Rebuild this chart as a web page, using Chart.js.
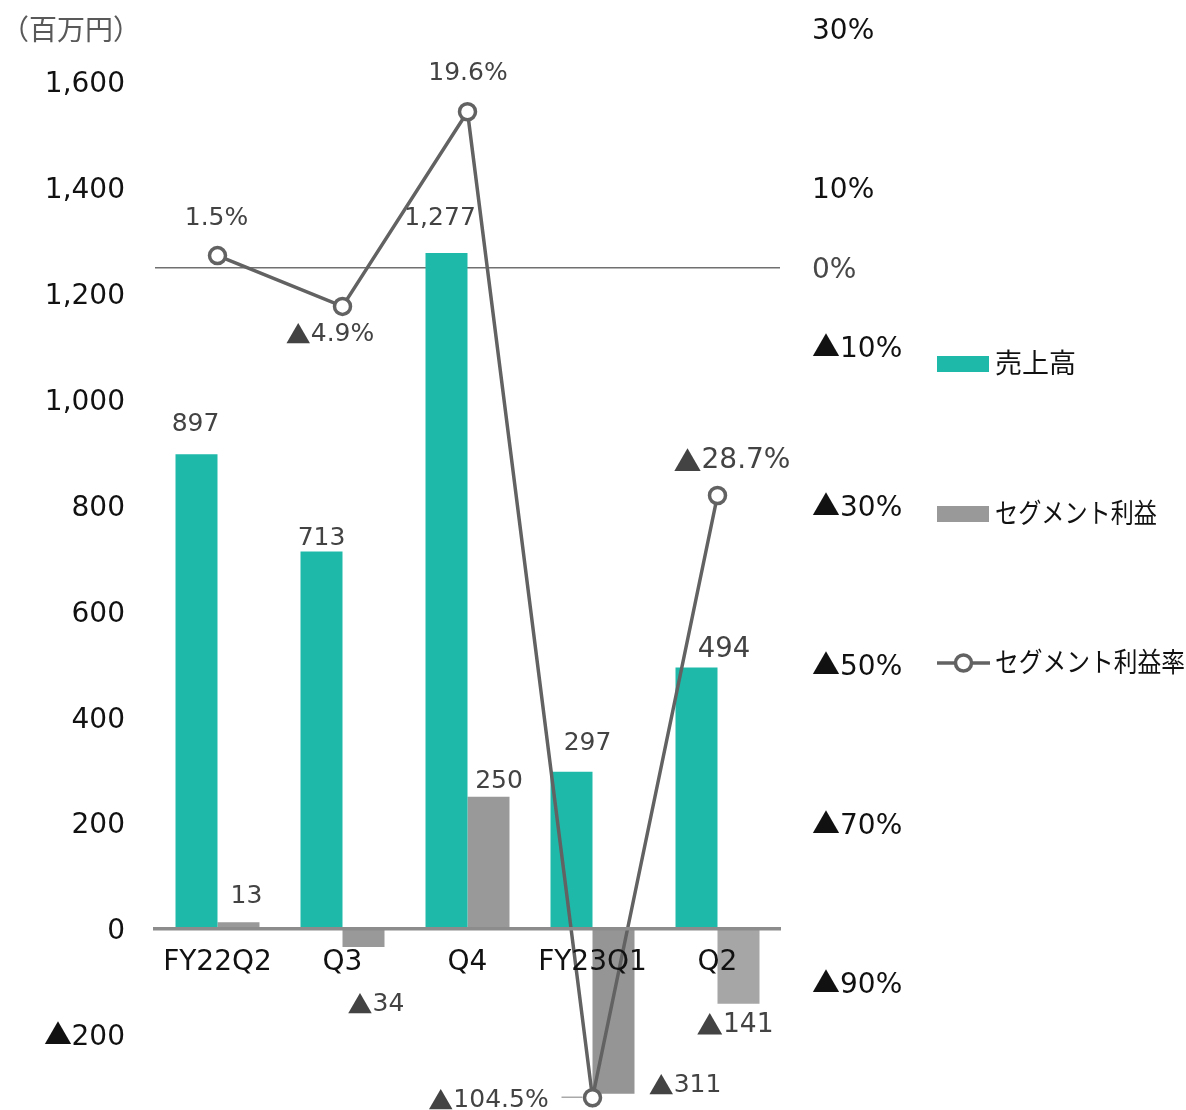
<!DOCTYPE html>
<html>
<head>
<meta charset="utf-8">
<script src="https://cdn.jsdelivr.net/npm/chart.js@4.4.1/dist/chart.umd.min.js"></script>
<style>
@font-face {
  font-family: 'TriMark';
  src: local('Noto Sans CJK JP Regular'), local('NotoSansCJKjp-Regular'), local('Noto Sans CJK JP');
  unicode-range: U+25B2;
}
html,body{margin:0;padding:0;background:#fff;overflow:hidden}
canvas{display:block}
</style>
</head>
<body>
<canvas id="c" width="1186" height="1110"></canvas>
<script>
// ---- data ----
const categories = ['FY22Q2', 'Q3', 'Q4', 'FY23Q1', 'Q2'];
const sales = [897, 713, 1277, 297, 494];
const profit = [13, -34, 250, -311, -141];
const profitRate = [1.5, -4.9, 19.6, -104.5, -28.7];
const leftTicks = [-200, 0, 200, 400, 600, 800, 1000, 1200, 1400, 1600];
const rightTicks = [30, 10, 0, -10, -30, -50, -70, -90];
const seriesNames = ['売上高', 'セグメント利益', 'セグメント利益率'];
const unitLabel = '（百万円）';

// ---- styling / label placement ----
const numFont = "'DejaVu Sans', 'Noto Sans CJK JP', sans-serif";
const tickFont = "'TriMark', 'DejaVu Sans', 'Noto Sans CJK JP', sans-serif";
const cjkFont = "'Noto Sans CJK JP', 'DejaVu Sans', sans-serif";
const teal = '#1fb9aa';
const lineGrey = '#626262';
const profitColors = ['#999999', '#999999', '#999999', '#959595', '#a6a6a6'];
const salesOff = [[-1, -29.5], [0, -13.5], [-6.5, -34.5], [16, -28], [27.5, -18]];
const profitOff = [[8, -26], [12.5, 57], [10.5, -15.5], [71.5, -8.5], [-3.5, 21.5]];
const rateOff = [[-1, -37], [-12.5, 28], [0.5, -38], [-104, 3], [14.5, -34.5]];
const salesSize = [25, 25, 25, 25, 27.5];
const profitSize = [25, 25, 25, 25, 26.5];
const rateSize = [25, 25, 25, 25, 28];
const legendMaxW = [null, 162, 190];

function fmtNum(v) {
  return v < 0 ? '▲' + Math.abs(v).toLocaleString('en-US') : v.toLocaleString('en-US');
}
function fmtPct(v) {
  return v < 0 ? '▲' + Math.abs(v).toFixed(1) + '%' : v.toFixed(1) + '%';
}
function fmtTickPct(v) {
  return v < 0 ? '▲' + Math.abs(v) + '%' : v + '%';
}

function drawLabel(ctx, text, cx, cy, size) {
  let tri = '', rest = text;
  if (text.charAt(0) === '▲') { tri = '▲'; rest = text.slice(1); }
  ctx.font = size + 'px ' + cjkFont;
  const wt = tri ? ctx.measureText(tri).width : 0;
  ctx.font = size + 'px ' + numFont;
  const wr = ctx.measureText(rest).width;
  let x = cx - (wt + wr) / 2;
  ctx.textAlign = 'left';
  if (tri) {
    ctx.font = size + 'px ' + cjkFont;
    ctx.fillText(tri, x, cy);
    x += wt;
  }
  ctx.font = size + 'px ' + numFont;
  ctx.fillText(rest, x, cy);
}

const overlay = {
  id: 'overlay',
  afterDraw(chart) {
    const ctx = chart.ctx;
    const mRate = chart.getDatasetMeta(0);
    const mSales = chart.getDatasetMeta(1);
    const mProfit = chart.getDatasetMeta(2);
    ctx.save();
    ctx.textBaseline = 'middle';
    ctx.fillStyle = '#434343';
    sales.forEach((v, i) => {
      const el = mSales.data[i];
      drawLabel(ctx, fmtNum(v), el.x + salesOff[i][0], el.y + salesOff[i][1], salesSize[i]);
    });
    profit.forEach((v, i) => {
      const el = mProfit.data[i];
      drawLabel(ctx, fmtNum(v), el.x + profitOff[i][0], el.y + profitOff[i][1], profitSize[i]);
    });
    profitRate.forEach((v, i) => {
      const el = mRate.data[i];
      drawLabel(ctx, fmtPct(v), el.x + rateOff[i][0], el.y + rateOff[i][1], rateSize[i]);
    });
    // leader line for the far-off label
    const pLow = mRate.data[3];
    ctx.strokeStyle = '#a9a9a9';
    ctx.lineWidth = 1.5;
    ctx.beginPath();
    ctx.moveTo(pLow.x - 31, pLow.y - 0.5);
    ctx.lineTo(pLow.x - 10, pLow.y - 0.5);
    ctx.stroke();

    // legend
    const lx = 937, lw = 52, tx = 995;
    const rows = [364, 514, 663];
    ctx.fillStyle = teal;
    ctx.fillRect(lx, rows[0] - 8, lw, 16);
    ctx.fillStyle = '#999999';
    ctx.fillRect(lx, rows[1] - 8, lw, 16);
    ctx.strokeStyle = lineGrey;
    ctx.lineWidth = 3.5;
    ctx.beginPath();
    ctx.moveTo(lx, rows[2]);
    ctx.lineTo(lx + 53, rows[2]);
    ctx.stroke();
    ctx.beginPath();
    ctx.arc(lx + 26.5, rows[2], 8, 0, Math.PI * 2);
    ctx.fillStyle = '#ffffff';
    ctx.fill();
    ctx.stroke();
    ctx.font = '27px ' + cjkFont;
    ctx.fillStyle = '#111111';
    ctx.textAlign = 'left';
    seriesNames.forEach((n, i) => {
      if (legendMaxW[i]) ctx.fillText(n, tx, rows[i] - 1.5, legendMaxW[i]);
      else ctx.fillText(n, tx, rows[i] - 1.5);
    });

    // unit label
    ctx.font = '28px ' + cjkFont;
    ctx.fillStyle = '#595959';
    ctx.textAlign = 'center';
    ctx.fillText(unitLabel, 71, 29);
    ctx.restore();
  }
};

const chart = new Chart(document.getElementById('c'), {
  type: 'bar',
  data: {
    labels: categories,
    datasets: [
      {
        type: 'line',
        label: seriesNames[2],
        data: profitRate,
        yAxisID: 'y1',
        order: 0,
        borderColor: lineGrey,
        borderWidth: 3.5,
        pointRadius: 8,
        pointHoverRadius: 8,
        pointBorderWidth: 3.5,
        pointBackgroundColor: '#ffffff',
        pointBorderColor: lineGrey,
        tension: 0,
        fill: false,
        clip: false
      },
      {
        label: seriesNames[0],
        data: sales,
        yAxisID: 'y',
        order: 1,
        backgroundColor: teal,
        categoryPercentage: 0.672,
        barPercentage: 1.0
      },
      {
        label: seriesNames[1],
        data: profit,
        yAxisID: 'y',
        order: 2,
        backgroundColor: profitColors,
        categoryPercentage: 0.672,
        barPercentage: 1.0
      }
    ]
  },
  options: {
    responsive: false,
    animation: false,
    devicePixelRatio: 1,
    layout: { autoPadding: false, padding: { top: 18, bottom: 2, left: 0, right: 0 } },
    plugins: { legend: { display: false }, tooltip: { enabled: false } },
    scales: {
      x: {
        position: { y: 0 },
        grid: { display: false, drawTicks: false },
        border: { display: true, color: '#8c8c8c', width: 3.5, z: 1 },
        ticks: {
          z: 1,
          font: { family: numFont, size: 28 },
          color: '#111111',
          padding: 17,
          maxRotation: 0,
          autoSkip: false
        },
        afterFit(s) { s.paddingLeft = 0; s.paddingRight = 0; }
      },
      y: {
        position: 'left',
        min: -338,
        max: 1721,
        grid: { display: false, drawTicks: false },
        border: { display: false },
        ticks: {
          font: { family: tickFont, size: 28 },
          color: '#111111',
          padding: 30,
          labelOffset: 3,
          callback: (v) => fmtNum(v)
        },
        afterBuildTicks(s) { s.ticks = leftTicks.map(v => ({ value: v })); },
        afterFit(s) { s.width = 155; s.paddingTop = 0; s.paddingBottom = 0; }
      },
      y1: {
        position: 'right',
        min: -105.79,
        max: 31.40,
        grid: {
          drawTicks: false,
          lineWidth: 1.5,
          color: (c) => (c.tick && c.tick.value === 0) ? '#707070' : 'rgba(0,0,0,0)'
        },
        border: { display: false },
        ticks: {
          font: { family: tickFont, size: 28 },
          color: (c) => (c.tick && c.tick.value === 0) ? '#474747' : '#111111',
          padding: 32,
          labelOffset: 3,
          callback: (v) => fmtTickPct(v)
        },
        afterBuildTicks(s) { s.ticks = rightTicks.map(v => ({ value: v })); },
        afterFit(s) { s.width = 406; s.paddingTop = 0; s.paddingBottom = 0; }
      }
    }
  },
  plugins: [overlay]
});

if (document.fonts && document.fonts.load) {
  document.fonts.load('28px TriMark', '▲').then(() => chart.update()).catch(() => {});
}
</script>
</body>
</html>
